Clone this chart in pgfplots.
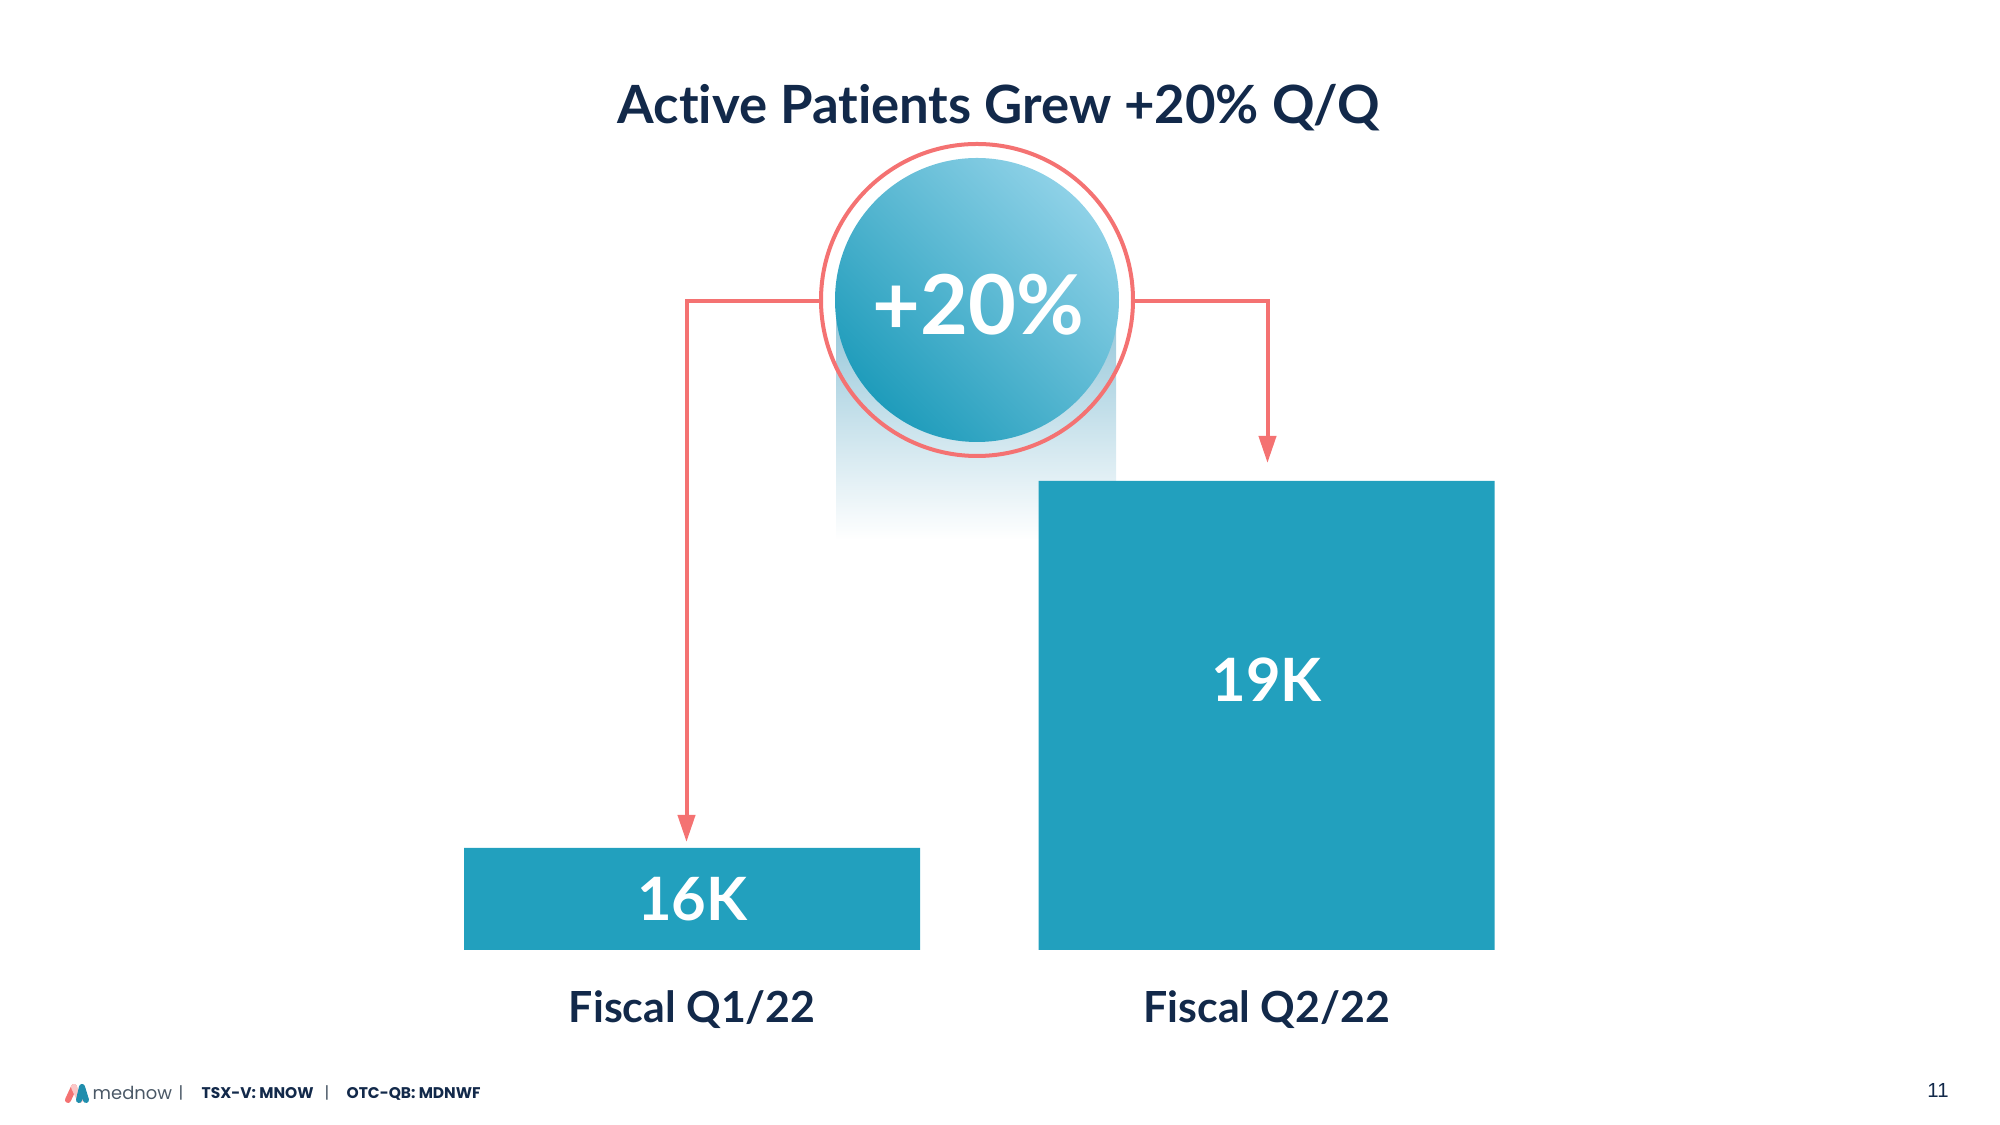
\documentclass[border=0pt]{standalone}
\usepackage{pgfplots}
\pgfplotsset{compat=1.18}
\usetikzlibrary{arrows.meta}
\usepackage{fontspec}
\setmainfont{Lato}[Ligatures=NoCommon]
\newfontfamily\footfont{Poppins}
\newfontfamily\numfont{Liberation Sans}
\definecolor{barcol}{HTML}{22A0BE}
\definecolor{redcol}{HTML}{F47272}
\definecolor{navy}{HTML}{12294A}
\definecolor{clight}{HTML}{8ED1E7}
\definecolor{cmid}{HTML}{27A1C0}
\definecolor{cdark}{HTML}{1F9CBB}
\definecolor{shadetop}{HTML}{8FC3D7}
\definecolor{footgrey}{HTML}{4A5866}
\begin{document}
\begin{tikzpicture}[x=0.1mm,y=0.1mm]
\path[use as bounding box] (0,0) rectangle (2000,1125);
% soft shadow under the badge
\shade[top color=shadetop, bottom color=white] (836,825) rectangle (1116,585);
\begin{axis}[at={(40.5mm,17.5mm)}, anchor=south west, scale only axis,
  width=114.9mm, height=46.9mm,
  xmin=-0.5, xmax=1.5, ymin=15166, ymax=19000,
  ybar, bar width=45.6mm,
  axis line style={draw=none}, ytick=\empty,
  xtick=data, xticklabels={Fiscal Q1/22,Fiscal Q2/22},
  major tick length=0pt,
  xticklabel style={font=\fontsize{12.2}{14}\selectfont\bfseries, text=navy, anchor=base, yshift=-7.3mm}]
\addplot[fill=barcol, draw=none] coordinates {(0,16000) (1,19000)};
\node[text=white, font=\fontsize{17}{20}\selectfont\bfseries] at (axis cs:0,15583) {16K};
\node[text=white, font=\fontsize{17}{20}\selectfont\bfseries] at (axis cs:1,17373) {19K};
\end{axis}
% badge
\draw[redcol, line width=0.4mm] (977,825) circle (156);
\shade[top color=clight, middle color=cmid, bottom color=cdark, shading angle=-45] (977,825) circle (142);
\node[text=white, font=\fontsize{23.5}{26}\selectfont\bfseries] at (978,820) {+20\%};
% connectors
\draw[redcol, line width=0.4mm, -{Triangle[length=2.7mm,width=1.7mm]}] (821,824) -- (686.5,824) -- (686.5,283);
\draw[redcol, line width=0.4mm, -{Triangle[length=2.7mm,width=1.7mm]}] (1133,824) -- (1267.5,824) -- (1267.5,662);
% title
\node[text=navy, font=\fontsize{15}{18}\selectfont\bfseries, anchor=base] at (999,1001) {Active Patients Grew +20\% Q/Q};
% footer
\draw[line width=0.6mm, line cap=round, color=redcol] (68,1125-1100) -- (74,1125-1087);
\draw[line width=0.6mm, line cap=round, color=redcol!40] (74,1125-1087) -- (80,1125-1100);
\draw[line width=0.6mm, line cap=round, line join=round, color=barcol!85!navy] (79,1125-1100) -- (82,1125-1087) -- (86,1125-1100);
\node[anchor=base west, inner sep=0pt, text=footgrey, font=\footfont\fontsize{5.1}{6}\selectfont] at (92,25) {mednow};
\node[anchor=base, inner sep=0pt, text=footgrey, font=\footfont\fontsize{4.6}{6}\selectfont] at (181,26) {|};
\node[anchor=base west, inner sep=0pt, text=navy, font=\footfont\bfseries\fontsize{4.4}{6}\selectfont] at (201,26) {TSX-V: MNOW};
\node[anchor=base, inner sep=0pt, text=footgrey, font=\footfont\fontsize{4.6}{6}\selectfont] at (327,26) {|};
\node[anchor=base west, inner sep=0pt, text=navy, font=\footfont\bfseries\fontsize{4.4}{6}\selectfont] at (346,26) {OTC-QB: MDNWF};
\node[anchor=base, inner sep=0pt, text=navy, font=\numfont\fontsize{5.8}{7}\selectfont] at (1938,27) {11};
\end{tikzpicture}
\end{document}
